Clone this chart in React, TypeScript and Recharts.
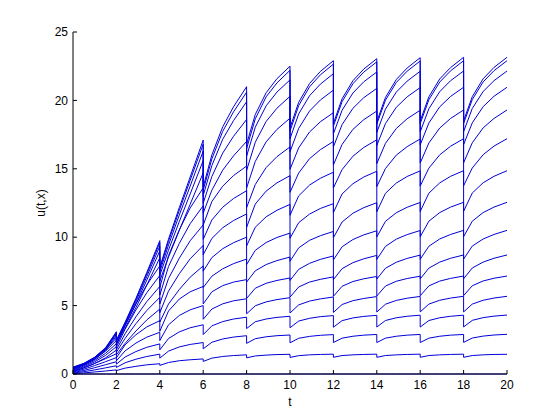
import React from "react";
import { LineChart, Line, XAxis, YAxis } from "recharts";

// time samples (duplicated at each drop instant)
const T = [
  0, 0.5, 1, 1.5, 2,
  2, 2.4, 2.9, 3.4, 4,
  4, 4.4, 4.9, 5.4, 6,
  6, 6.4, 6.9, 7.4, 8,
  8, 8.4, 8.9, 9.4, 10,
  10, 10.4, 10.9, 11.4, 12,
  12, 12.4, 12.9, 13.4, 14,
  14, 14.4, 14.9, 15.4, 16,
  16, 16.4, 16.9, 17.4, 18,
  18, 18.4, 18.9, 19.4, 20,
];

const C0 = [
  0, 0, 0, 0, 0, 0, 0, 0, 0, 0, 0, 0, 0, 0, 0, 0, 0, 0, 0, 0, 0, 0, 0, 0, 0,
  0, 0, 0, 0, 0, 0, 0, 0, 0, 0, 0, 0, 0, 0, 0, 0, 0, 0, 0, 0, 0, 0, 0, 0, 0,
];
const C1 = [
  0.03, 0.08, 0.15, 0.22, 0.3, 0.25, 0.43, 0.56, 0.67, 0.75,
  0.63, 0.84, 0.97, 1.04, 1.1, 0.92, 1.16, 1.28, 1.35, 1.4,
  1.18, 1.32, 1.38, 1.42, 1.44, 1.21, 1.34, 1.4, 1.43, 1.45,
  1.22, 1.35, 1.4, 1.43, 1.45, 1.22, 1.35, 1.4, 1.43, 1.45,
  1.22, 1.35, 1.4, 1.43, 1.45, 1.22, 1.35, 1.4, 1.43, 1.44,
];
const C2 = [
  0.06, 0.17, 0.3, 0.45, 0.6, 0.48, 0.82, 1.08, 1.28, 1.45,
  1.16, 1.67, 1.98, 2.16, 2.3, 1.84, 2.32, 2.56, 2.7, 2.8,
  2.24, 2.58, 2.72, 2.8, 2.85, 2.28, 2.61, 2.75, 2.83, 2.88,
  2.3, 2.62, 2.76, 2.84, 2.89, 2.3, 2.62, 2.76, 2.84, 2.89,
  2.3, 2.62, 2.76, 2.84, 2.89, 2.31, 2.63, 2.77, 2.85, 2.9,
];
const C3 = [
  0.1, 0.26, 0.46, 0.68, 0.9, 0.72, 1.24, 1.64, 1.95, 2.2,
  1.76, 2.59, 3.08, 3.38, 3.6, 2.88, 3.52, 3.83, 4.02, 4.15,
  3.32, 3.82, 4.02, 4.14, 4.22, 3.38, 3.87, 4.07, 4.19, 4.27,
  3.42, 3.9, 4.1, 4.21, 4.29, 3.43, 3.91, 4.11, 4.22, 4.3,
  3.43, 3.91, 4.11, 4.22, 4.3, 3.44, 3.92, 4.12, 4.23, 4.31,
];
const C4 = [
  0.14, 0.35, 0.62, 0.9, 1.2, 0.96, 1.69, 2.26, 2.69, 3.05,
  2.44, 3.59, 4.28, 4.69, 5.0, 4.0, 4.75, 5.13, 5.35, 5.5,
  4.4, 4.99, 5.27, 5.44, 5.58, 4.46, 5.05, 5.33, 5.49, 5.63,
  4.5, 5.08, 5.36, 5.52, 5.66, 4.53, 5.1, 5.38, 5.54, 5.67,
  4.54, 5.11, 5.39, 5.55, 5.68, 4.54, 5.11, 5.39, 5.55, 5.68,
];
const C5 = [
  0.18, 0.44, 0.77, 1.12, 1.48, 1.18, 2.13, 2.87, 3.44, 3.9,
  3.12, 4.6, 5.48, 6.01, 6.4, 5.12, 6.01, 6.46, 6.72, 6.9,
  5.52, 6.27, 6.63, 6.84, 7.02, 5.62, 6.36, 6.72, 6.92, 7.1,
  5.68, 6.41, 6.76, 6.96, 7.13, 5.7, 6.43, 6.78, 6.98, 7.15,
  5.72, 6.44, 6.79, 6.99, 7.16, 5.73, 6.45, 6.8, 7.0, 7.16,
];
const C6 = [
  0.22, 0.45, 0.77, 1.18, 1.75, 1.4, 2.24, 3.14, 3.95, 4.75,
  3.8, 5.11, 6.18, 7.08, 7.9, 6.32, 7.15, 7.69, 8.07, 8.4,
  6.72, 7.54, 8.0, 8.29, 8.55, 6.84, 7.65, 8.09, 8.38, 8.63,
  6.9, 7.7, 8.14, 8.42, 8.67, 6.94, 7.73, 8.17, 8.45, 8.69,
  6.95, 7.74, 8.18, 8.46, 8.7, 6.96, 7.75, 8.18, 8.46, 8.7,
];
const C7 = [
  0.26, 0.52, 0.89, 1.36, 2.0, 1.6, 2.6, 3.68, 4.64, 5.6,
  4.48, 6.05, 7.33, 8.42, 9.4, 7.52, 8.51, 9.16, 9.6, 10.0,
  8.0, 9.04, 9.61, 9.98, 10.3, 8.24, 9.22, 9.77, 10.11, 10.42,
  8.34, 9.3, 9.83, 10.17, 10.47, 8.38, 9.33, 9.86, 10.19, 10.49,
  8.39, 9.34, 9.87, 10.2, 10.5, 8.4, 9.35, 9.87, 10.2, 10.5,
];
const C8 = [
  0.3, 0.59, 0.99, 1.51, 2.22, 1.78, 2.94, 4.18, 5.29, 6.4,
  5.12, 6.97, 8.47, 9.74, 10.9, 8.72, 9.91, 10.69, 11.22, 11.7,
  9.36, 10.73, 11.49, 11.97, 12.4, 9.92, 11.06, 11.69, 12.1, 12.45,
  9.96, 11.11, 11.75, 12.16, 12.52, 10.02, 11.16, 11.79, 12.19, 12.54,
  10.03, 11.17, 11.8, 12.2, 12.55, 10.04, 11.17, 11.8, 12.2, 12.55,
];
const C9 = [
  0.34, 0.66, 1.1, 1.67, 2.45, 1.96, 3.27, 4.68, 5.94, 7.2,
  5.76, 7.85, 9.55, 10.99, 12.3, 9.84, 11.26, 12.19, 12.83, 13.4,
  10.72, 12.42, 13.37, 13.97, 14.5, 11.6, 13.02, 13.81, 14.31, 14.75,
  11.8, 13.16, 13.91, 14.4, 14.82, 11.86, 13.21, 13.96, 14.44, 14.85,
  11.88, 13.22, 13.97, 14.45, 14.86, 11.89, 13.23, 13.98, 14.45, 14.86,
];
const C10 = [
  0.37, 0.71, 1.18, 1.79, 2.62, 2.1, 3.55, 5.12, 6.51, 7.9,
  6.32, 8.65, 10.54, 12.14, 13.6, 10.88, 12.61, 13.73, 14.51, 15.2,
  12.16, 13.85, 15.09, 15.89, 16.6, 13.28, 14.69, 15.74, 16.4, 17.0,
  13.6, 14.94, 15.92, 16.56, 17.12, 13.7, 15.02, 16.0, 16.62, 17.18,
  13.74, 15.05, 16.02, 16.65, 17.2, 13.76, 15.06, 16.03, 16.66, 17.2,
];
const C11 = [
  0.4, 0.66, 1.07, 1.71, 2.78, 2.22, 3.35, 4.86, 6.49, 8.5,
  6.8, 8.54, 10.51, 12.41, 14.7, 11.76, 13.44, 14.9, 15.95, 17.0,
  13.6, 15.54, 16.97, 17.88, 18.7, 14.96, 16.53, 17.69, 18.44, 19.1,
  15.28, 16.78, 17.88, 18.59, 19.22, 15.38, 16.86, 17.95, 18.66, 19.28,
  15.42, 16.89, 17.98, 18.68, 19.3, 15.44, 16.9, 17.99, 18.68, 19.3,
];
const C12 = [
  0.43, 0.7, 1.12, 1.79, 2.9, 2.32, 3.52, 5.13, 6.86, 9.0,
  7.2, 9.05, 11.15, 13.16, 15.6, 12.48, 14.44, 16.15, 17.38, 18.6,
  14.88, 16.94, 18.46, 19.43, 20.3, 16.24, 17.95, 19.22, 20.03, 20.75,
  16.6, 18.23, 19.42, 20.2, 20.88, 16.7, 18.31, 19.5, 20.26, 20.94,
  16.75, 18.35, 19.53, 20.29, 20.96, 16.77, 18.36, 19.54, 20.3, 20.96,
];
const C13 = [
  0.46, 0.74, 1.17, 1.85, 2.99, 2.39, 3.64, 5.31, 7.12, 9.35,
  7.48, 9.42, 11.63, 13.74, 16.3, 13.04, 15.24, 17.16, 18.53, 19.9,
  15.92, 18.04, 19.6, 20.61, 21.5, 17.2, 19.01, 20.34, 21.19, 21.95,
  17.56, 19.28, 20.54, 21.36, 22.08, 17.66, 19.36, 20.61, 21.41, 22.13,
  17.7, 19.39, 20.64, 21.44, 22.15, 17.72, 19.41, 20.65, 21.44, 22.15,
];
const C14 = [
  0.48, 0.76, 1.2, 1.89, 3.05, 2.44, 3.73, 5.45, 7.31, 9.6,
  7.68, 9.69, 11.97, 14.16, 16.8, 13.44, 15.73, 17.74, 19.17, 20.6,
  16.48, 18.65, 20.26, 21.28, 22.2, 17.76, 19.62, 20.99, 21.87, 22.65,
  18.12, 19.91, 21.22, 22.07, 22.82, 18.26, 20.02, 21.31, 22.14, 22.88,
  18.3, 20.05, 21.34, 22.16, 22.9, 18.32, 20.06, 21.35, 22.17, 22.9,
];
const C15 = [
  0.5, 0.78, 1.23, 1.92, 3.09, 2.47, 3.78, 5.53, 7.42, 9.75,
  7.8, 9.85, 12.17, 14.4, 17.1, 13.68, 16.02, 18.07, 19.54, 21.0,
  16.8, 18.97, 20.56, 21.59, 22.5, 18.0, 19.86, 21.23, 22.12, 22.9,
  18.32, 20.12, 21.44, 22.29, 23.05, 18.44, 20.22, 21.53, 22.37, 23.12,
  18.5, 20.26, 21.57, 22.4, 23.15, 18.52, 20.27, 21.58, 22.41, 23.15,
];

const SERIES = [C0, C1, C2, C3, C4, C5, C6, C7, C8, C9, C10, C11, C12, C13, C14, C15];
const X_TICKS = [0, 2, 4, 6, 8, 10, 12, 14, 16, 18, 20];
const Y_TICKS = [0, 5, 10, 15, 20, 25];
const X_LABEL = "t";
const Y_LABEL = "u(t,x)";

const data = T.map((t, j) => {
  const row: Record<string, number> = { t };
  SERIES.forEach((s, i) => {
    row["c" + i] = s[j];
  });
  return row;
});

const FONT = "'Liberation Sans', Arial, Helvetica, sans-serif";

export default function App() {
  return (
    <div style={{ position: "absolute", left: 0, top: 0, width: 560, height: 420, background: "#fff" }}>
      <LineChart
        width={560}
        height={420}
        data={data}
        margin={{ top: 32, right: 53, bottom: 14, left: 41 }}
      >
        <XAxis
          dataKey="t"
          type="number"
          domain={[0, 20]}
          ticks={X_TICKS}
          interval={0}
          height={32}
          tickSize={-4}
          tickMargin={10}
          stroke="#000"
          tick={{ fill: "#000", fontSize: 12, fontFamily: FONT }}
          tickLine={{ stroke: "#000" }}
          label={{ value: X_LABEL, position: "insideBottom", offset: 0, fill: "#000", fontSize: 12, fontFamily: FONT }}
        />
        <YAxis
          type="number"
          domain={[0, 25]}
          ticks={Y_TICKS}
          interval={0}
          width={32}
          tickSize={-4}
          tickMargin={9}
          stroke="#000"
          tick={{ fill: "#000", fontSize: 12, fontFamily: FONT }}
          tickLine={{ stroke: "#000" }}
          label={{ value: Y_LABEL, angle: -90, position: "insideLeft", offset: 0, fill: "#000", fontSize: 12, fontFamily: FONT, style: { textAnchor: "middle" } }}
        />
        {SERIES.map((_, i) => (
          <Line
            key={i}
            dataKey={"c" + i}
            type="linear"
            stroke="#0000d8"
            strokeWidth={1}
            dot={false}
            activeDot={false}
            isAnimationActive={false}
          />
        ))}
      </LineChart>
    </div>
  );
}
